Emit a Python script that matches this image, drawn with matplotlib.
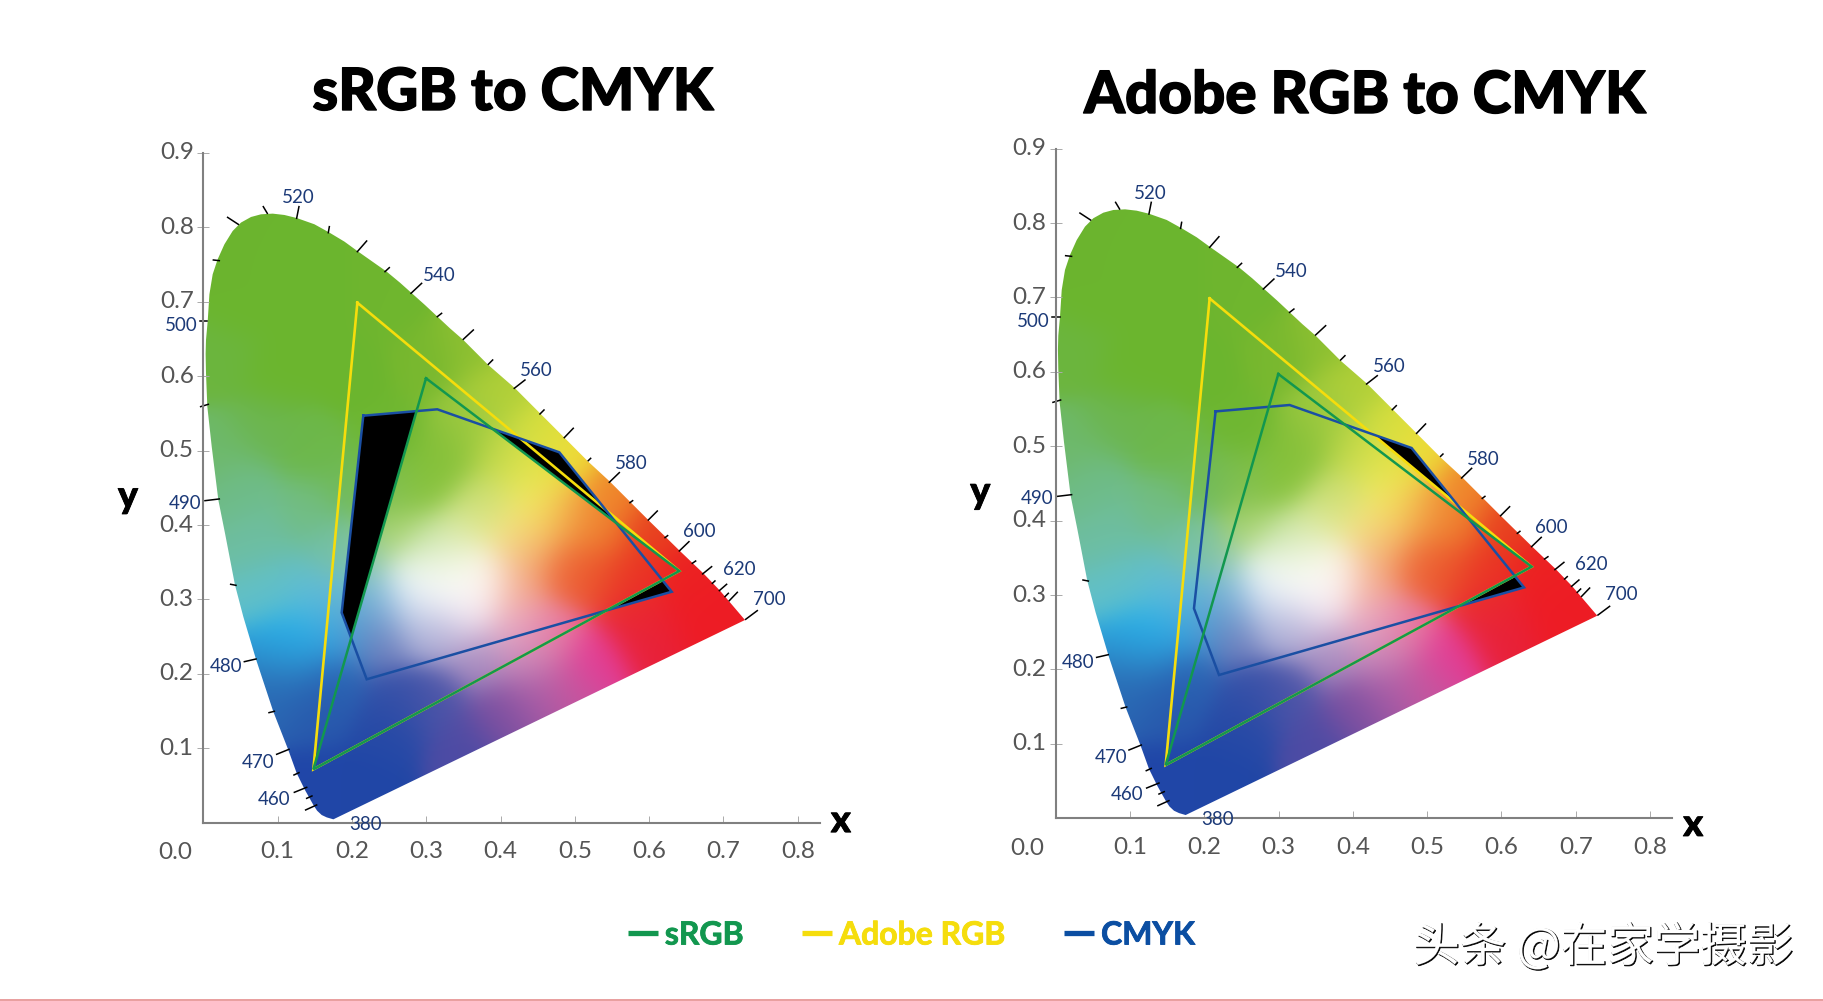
import matplotlib
matplotlib.use('Agg')
import matplotlib.pyplot as plt
import matplotlib.patheffects as pe
from matplotlib.colors import to_rgb
from matplotlib.lines import Line2D
from matplotlib.patches import Polygon, Rectangle
from matplotlib.transforms import ScaledTranslation
import numpy as np

####################################################
# Data
####################################################
locus_x = [0.1749, 0.1660, 0.1592, 0.1530, 0.1480, 0.1367, 0.1256, 0.1143, 0.0941, 0.0708, 0.0537, 0.0425, 0.0291,
           0.0201, 0.0112, 0.0053, 0.0035, 0.0030, 0.0035, 0.0058, 0.0081, 0.0125, 0.0192, 0.0283, 0.0394, 0.0506,
           0.0641, 0.0775, 0.0933, 0.1090, 0.1256, 0.1494, 0.1696, 0.1898, 0.2077, 0.2467, 0.2646, 0.2982, 0.3319,
           0.3498, 0.3835, 0.4194, 0.4530, 0.4867, 0.5180, 0.5472, 0.5988, 0.6414, 0.6728, 0.6953, 0.7289]
locus_y = [0.0044, 0.0070, 0.0102, 0.0160, 0.0237, 0.0438, 0.0663, 0.0976, 0.1491, 0.2195, 0.2768, 0.3194, 0.3888,
           0.4336, 0.5053, 0.5590, 0.6039, 0.6300, 0.6487, 0.6742, 0.7101, 0.7370, 0.7571, 0.7773, 0.7952, 0.8065,
           0.8140, 0.8176, 0.8185, 0.8167, 0.8126, 0.8042, 0.7930, 0.7809, 0.7679, 0.7405, 0.7257, 0.6957, 0.6643,
           0.6487, 0.6150, 0.5838, 0.5502, 0.5165, 0.4851, 0.4582, 0.4067, 0.3650, 0.3351, 0.3117, 0.2723]

srgb_x = [0.2996, 0.6405, 0.1480]
srgb_y = [0.5972, 0.3382, 0.0716]
adobe_x = [0.2072, 0.6405, 0.1480]
adobe_y = [0.6988, 0.3382, 0.0716]
cmyk_x = [0.2152, 0.3148, 0.4790, 0.6303, 0.2198, 0.1861]
cmyk_y = [0.5469, 0.5555, 0.4977, 0.3103, 0.1926, 0.2821]

# wavelength ticks on the locus: foot and outer end
wave_x0 = [0.0470, 0.0860, 0.1255, 0.1681, 0.2072, 0.2444, 0.2794, 0.3148, 0.3498, 0.3835, 0.4184, 0.4530, 0.4857,
           0.5180, 0.5463, 0.5741, 0.5988, 0.6213, 0.6405, 0.6580, 0.6719, 0.6850, 0.6944, 0.7020, 0.7078, 0.7298,
           0.0214, 0.0053, 0.0066, 0.0214, 0.0439, 0.0708, 0.0955, 0.1152, 0.1286, 0.1390, 0.1461, 0.1524]
wave_y0 = [0.8041, 0.8189, 0.8122, 0.7929, 0.7674, 0.7405, 0.7114, 0.6800, 0.6496, 0.6160, 0.5837, 0.5492, 0.5174,
           0.4865, 0.4574, 0.4300, 0.4067, 0.3830, 0.3651, 0.3485, 0.3342, 0.3216, 0.3118, 0.3037, 0.2983, 0.2732,
           0.7553, 0.6742, 0.5622, 0.4350, 0.3189, 0.2199, 0.1496, 0.0985, 0.0671, 0.0474, 0.0358, 0.0237]
wave_x1 = [0.0326, 0.0806, 0.1286, 0.1695, 0.2197, 0.2502, 0.2937, 0.3206, 0.3633, 0.3893, 0.4328, 0.4584, 0.4978,
           0.5212, 0.5598, 0.5777, 0.6109, 0.6248, 0.6535, 0.6625, 0.6840, 0.6885, 0.7042, 0.7065, 0.7186, 0.7455,
           0.0134, -0.0046, -0.0037, 0.0021, 0.0367, 0.0551, 0.0883, 0.0986, 0.1219, 0.1224, 0.1390, 0.1376]
wave_y1 = [0.8135, 0.8279, 0.8279, 0.8010, 0.7817, 0.7459, 0.7248, 0.6845, 0.6621, 0.6218, 0.5949, 0.5546, 0.5300,
           0.4896, 0.4704, 0.4327, 0.4188, 0.3857, 0.3776, 0.3516, 0.3440, 0.3248, 0.3203, 0.3082, 0.3095, 0.2849,
           0.7562, 0.6742, 0.5591, 0.4327, 0.3203, 0.2163, 0.1478, 0.0918, 0.0640, 0.0407, 0.0326, 0.0170]

wave_labels = ['520', '540', '560', '580', '600', '620', '700', '500', '490', '480', '470', '460', '380']
wave_label_x = [0.1278, 0.3175, 0.4485, 0.5755, 0.6675, 0.7213, 0.7617, -0.0302, -0.0248, 0.0300, 0.0739, 0.0955, 0.2184]
wave_label_y = [0.8402, 0.7354, 0.6072, 0.4826, 0.3908, 0.3407, 0.3003, 0.6677, 0.4294, 0.2098, 0.0813, 0.0315, -0.0019]

# colour of the gamut at sample points
field_x = [0.09, 0.05, 0.15, 0.25, 0.10, 0.20, 0.30, 0.02, 0.15, 0.25, 0.08,
           0.36, 0.40, 0.45, 0.49, 0.36, 0.33, 0.40, 0.44, 0.45,
           0.30, 0.25, 0.20, 0.26, 0.31, 0.35, 0.38, 0.41, 0.33, 0.29, 0.38, 0.30, 0.36, 0.33, 0.29,
           0.42, 0.44, 0.49, 0.53, 0.49, 0.53, 0.58, 0.60, 0.55, 0.65, 0.72, 0.66, 0.58,
           0.60, 0.525, 0.47, 0.42, 0.355, 0.31, 0.37, 0.44, 0.49, 0.444, 0.40, 0.35, 0.31, 0.264, 0.242, 0.242, 0.22, 0.19,
           0.175, 0.13, 0.175, 0.152, 0.175, 0.10, 0.08, 0.05, 0.02, 0.12, 0.11, 0.15, 0.15, 0.22, 0.25, 0.14, 0.21]
field_y = [0.78, 0.70, 0.70, 0.70, 0.60, 0.60, 0.62, 0.62, 0.50, 0.52, 0.53,
           0.64, 0.58, 0.52, 0.49, 0.54, 0.50, 0.50, 0.47, 0.42,
           0.45, 0.45, 0.45, 0.39, 0.37, 0.39, 0.43, 0.39, 0.326, 0.33, 0.33, 0.31, 0.32, 0.35, 0.28,
           0.32, 0.37, 0.41, 0.39, 0.34, 0.33, 0.33, 0.39, 0.44, 0.33, 0.28, 0.28, 0.28,
           0.25, 0.22, 0.255, 0.265, 0.28, 0.255, 0.22, 0.22, 0.183, 0.165, 0.142, 0.10, 0.165, 0.165, 0.245, 0.30, 0.277, 0.30,
           0.254, 0.254, 0.19, 0.30, 0.366, 0.32, 0.38, 0.45, 0.50, 0.22, 0.17, 0.15, 0.05, 0.05, 0.12, 0.42, 0.35]
field_c = ['#6bb52e', '#6bb52e', '#6bb52e', '#6fb62e', '#6bb52e', '#6bb52e', '#78b82f', '#6cb53e', '#6db84a', '#6fb731', '#6cb650',
           '#8dc031', '#b2d038', '#d6df3d', '#f0dc36', '#9cc93f', '#85c03a', '#c0d84a', '#e6e653', '#f5ec60',
           '#86c23a', '#80bf50', '#70ba58', '#a8d36c', '#bfe0a0', '#dde99c', '#c8dd70', '#f6eb8a', '#ffffff', '#f2f9fa', '#fdf5f0', '#ffffff', '#ffffff', '#eef4d8', '#c4d0ea',
           '#f2a080', '#f4b070', '#f3a44a', '#ee7f2e', '#ee6a3a', '#ea4f2a', '#ea3324', '#e8401f', '#f0872a', '#ec2122', '#ee1c25', '#ee1c25', '#ea2a30',
           '#e8203a', '#e53b96', '#ea7ba0', '#ecb0c8', '#f0e0ee', '#a9a5d0', '#a88cc0', '#c88abb', '#c4579f', '#a35aa5', '#7a4fa0', '#4d4ba4', '#4e55a8', '#3450a8', '#6d79ba', '#a0cfe8', '#5a8ec8', '#5fbbdc',
           '#3aa0dc', '#22b5f0', '#2a62b2', '#63bcd8', '#6fbfa8', '#62c0c8', '#6ebea0', '#6fbc8a', '#6eb96a', '#2f8fcc', '#2a6ab4', '#2857ac', '#2046a8', '#2046a6', '#2549a6', '#72bd82', '#8fc79c']

tick_vals = [0.1, 0.2, 0.3, 0.4, 0.5, 0.6, 0.7, 0.8]
ytick_vals = [0.1, 0.2, 0.3, 0.4, 0.5, 0.6, 0.7, 0.8, 0.9]

legend_names = ['sRGB', 'Adobe RGB', 'CMYK']

####################################################
# Constants
####################################################
FIG_W, FIG_H = 1824, 1001
SCALE_X, SCALE_Y = 743, 744

GREEN = '#12974f'
YELLOW = '#f5dd0c'
BLUE = '#1a4fa3'
LEG_BLUE = '#0b4ea2'
GREY = '#555555'
WAVE = '#1c3a78'

plt.rcParams['font.family'] = ['Lato', 'DejaVu Sans']


def colour_field():
    # soft blend of the sample colours
    xs, ys = np.meshgrid(np.linspace(0, 0.75, 376), np.linspace(0, 0.85, 426))
    px = np.array(field_x)[:, None, None]
    py = np.array(field_y)[:, None, None]
    rgb = np.array([to_rgb(c) for c in field_c])
    w = np.exp(-((xs - px) ** 2 + (ys - py) ** 2) / (2 * 0.03 ** 2)) + 1e-12
    return np.einsum('kij,kc->ijc', w, rgb) / w.sum(axis=0)[..., None]


def draw_panel(left_px, bottom_px, title, title_px, x_label_y, gamut_x, gamut_y, field):
    ax = fig.add_axes([left_px / FIG_W, 1 - bottom_px / FIG_H,
                       0.83 * SCALE_X / FIG_W, 0.9 * SCALE_Y / FIG_H])
    ax.set_xlim(0, 0.83)
    ax.set_ylim(0, 0.9)
    ax.set_facecolor('none')

    locus = Polygon(np.column_stack([locus_x, locus_y]), closed=True, transform=ax.transData, fc='none', ec='none')
    ax.add_patch(locus)
    img = ax.imshow(field, extent=(0, 0.75, 0, 0.85), origin='lower', aspect='auto', interpolation='bilinear', zorder=1)
    img.set_clip_path(locus)

    # black is what CMYK has outside the other gamut
    ax.fill(cmyk_x, cmyk_y, color='black', lw=0, zorder=2)
    inner = Polygon(np.column_stack([gamut_x, gamut_y]), closed=True, transform=ax.transData, fc='none', ec='none')
    ax.add_patch(inner)
    img2 = ax.imshow(field, extent=(0, 0.75, 0, 0.85), origin='lower', aspect='auto', interpolation='bilinear', zorder=3)
    img2.set_clip_path(inner)
    ax.set_xlim(0, 0.83)
    ax.set_ylim(0, 0.9)

    ax.plot(adobe_x + adobe_x[:1], adobe_y + adobe_y[:1], color=YELLOW, lw=1.9, solid_joinstyle='miter', zorder=4)
    ax.plot(cmyk_x + cmyk_x[:1], cmyk_y + cmyk_y[:1], color=BLUE, lw=1.8, solid_joinstyle='miter', zorder=5)
    ax.plot(srgb_x + srgb_x[:1], srgb_y + srgb_y[:1], color=GREEN, lw=1.8, solid_joinstyle='miter', zorder=6)

    for x0, y0, x1, y1 in zip(wave_x0, wave_y0, wave_x1, wave_y1):
        ax.plot([x0, x1], [y0, y1], color='black', lw=1.1, clip_on=False, zorder=2)
    for label, x, y in zip(wave_labels, wave_label_x, wave_label_y):
        ax.text(x, y, label, color=WAVE, fontsize=13.5, ha='center', va='center', zorder=7)

    for side in ['top', 'right']:
        ax.spines[side].set_visible(False)
    for side in ['left', 'bottom']:
        ax.spines[side].set_color('#808080')
        ax.spines[side].set_linewidth(1.5)

    ax.set_xticks(tick_vals)
    ax.set_yticks(ytick_vals)
    ax.set_xticklabels([f'{v:.1f}' for v in tick_vals])
    ax.set_yticklabels([f'{v:.1f}' for v in ytick_vals])
    ax.tick_params(axis='x', direction='in', length=5, width=0.7, color='#aaaaaa', labelsize=17.5,
                   labelcolor=GREY, pad=13.5)
    ax.tick_params(axis='y', direction='inout', length=9, width=0.7, color='#aaaaaa', labelsize=17.5,
                   labelcolor=GREY, pad=2.5)
    # y labels sit a little above their ticks
    for lbl in ax.get_yticklabels():
        lbl.set_transform(lbl.get_transform() + ScaledTranslation(0, 2 / 100, fig.dpi_scale_trans))
    ax.text(-0.038, -0.040, '0.0', color=GREY, fontsize=17.5, ha='center', va='center')

    stroke = [pe.withStroke(linewidth=0.6, foreground='black')]
    ax.text(-0.1015, 0.438, 'y', fontsize=27, fontweight='black', color='black', ha='center', va='center', path_effects=stroke)
    ax.text(0.858, x_label_y, 'x', fontsize=27, fontweight='black', color='black', ha='center', va='center', path_effects=stroke)

    fig.text(title_px[0] / FIG_W, 1 - title_px[1] / FIG_H, title, fontsize=42, fontweight='black',
             color='black', ha='center', va='center', path_effects=[pe.withStroke(linewidth=1.0, foreground='black')])


####################################################
# Plot data
####################################################
fig = plt.figure(figsize=(FIG_W / 100, FIG_H / 100), dpi=100, facecolor='white')
field = colour_field()

draw_panel(203.4, 822.6, 'sRGB to CMYK', (513, 93.5), 0.002, srgb_x, srgb_y, field)
draw_panel(1055.7, 818.3, 'Adobe RGB to CMYK', (1365, 96.5), -0.009, adobe_x, adobe_y, field)

handles = [Line2D([], [], color=c, lw=3.8, solid_capstyle='butt') for c in [GREEN, YELLOW, LEG_BLUE]]
fs = 23
fpx = fs * 100 / 72
leg = fig.legend(handles, legend_names, ncol=3, frameon=False, loc='center',
                 bbox_to_anchor=(911.5 / FIG_W, 1 - 935 / FIG_H),
                 prop={'weight': 'bold', 'size': fs}, labelcolor='linecolor',
                 handlelength=30 / fpx, handletextpad=7 / fpx, columnspacing=58 / fpx)
for text, c in zip(leg.get_texts(), [GREEN, YELLOW, LEG_BLUE]):
    text.set_path_effects([pe.withStroke(linewidth=0.6, foreground=c)])

fig.text(1604 / FIG_W, 1 - 949 / FIG_H, '头条 @在家学摄影', fontsize=33.5, color='black', ha='center', va='center',
         family=['Noto Sans CJK SC', 'DejaVu Sans'],
         path_effects=[pe.PathPatchEffect(offset=(0, 0), fc='black', ec='black', lw=0.6),
                       pe.PathPatchEffect(offset=(-0.7, 0.7), fc='white', ec='white', lw=0.1)])

# thin pink rule along the bottom edge
fig.add_artist(Rectangle((0, 0), 1, 2 / FIG_H, transform=fig.transFigure, fc='#e9a0a0', ec='none'))

fig.savefig('out.png', dpi=100)
